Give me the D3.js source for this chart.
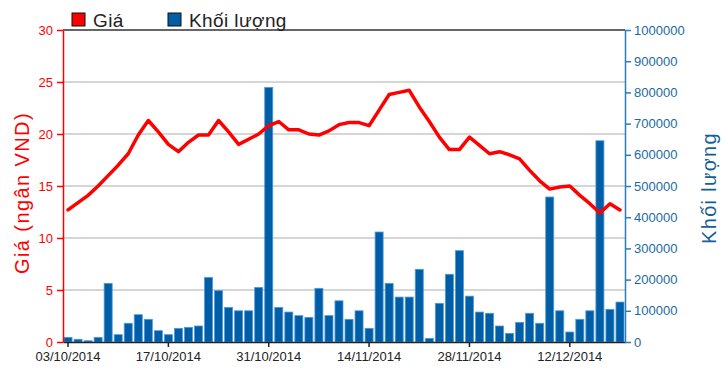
<!DOCTYPE html>
<html lang="vi">
<head>
<meta charset="UTF-8">
<title>Giá và khối lượng</title>
<script src="https://cdnjs.cloudflare.com/ajax/libs/d3/7.8.5/d3.min.js"></script>
<style>
    body { margin: 0; background: #fff; }
    svg { display: block; font-family: "Liberation Sans", Arial, sans-serif; }
    .grid line { stroke: #c8c8c8; stroke-width: 1.5; }
    .axis-x text { fill: #222; font-size: 13px; }
    .axis-left text { fill: #ff0000; font-size: 13px; }
    .axis-right text { fill: #1a6aa3; font-size: 13px; }
</style>
</head>
<body>
<svg id="chart" width="728" height="373"></svg>
<script>
// trading days
const dates = [
    "03/10/2014",
    "06/10/2014", "07/10/2014", "08/10/2014", "09/10/2014", "10/10/2014",
    "13/10/2014", "14/10/2014", "15/10/2014", "16/10/2014", "17/10/2014",
    "20/10/2014", "21/10/2014", "22/10/2014", "23/10/2014", "24/10/2014",
    "27/10/2014", "28/10/2014", "29/10/2014", "30/10/2014", "31/10/2014",
    "03/11/2014", "04/11/2014", "05/11/2014", "06/11/2014", "07/11/2014",
    "10/11/2014", "11/11/2014", "12/11/2014", "13/11/2014", "14/11/2014",
    "17/11/2014", "18/11/2014", "19/11/2014", "20/11/2014", "21/11/2014",
    "24/11/2014", "25/11/2014", "26/11/2014", "27/11/2014", "28/11/2014",
    "01/12/2014", "02/12/2014", "03/12/2014", "04/12/2014", "05/12/2014",
    "08/12/2014", "09/12/2014", "10/12/2014", "11/12/2014", "12/12/2014",
    "15/12/2014", "16/12/2014", "17/12/2014", "18/12/2014", "19/12/2014"
];

// giá (ngàn VND)
const prices = [
    12.7, 13.4, 14.1, 15.0, 16.0, 17.0, 18.1, 19.9, 21.3, 20.2,
    19.0, 18.3, 19.2, 19.9, 19.9, 21.3, 20.2, 19.0, 19.5, 20.0,
    20.8, 21.2, 20.4, 20.4, 20.0, 19.9, 20.3, 20.9, 21.1, 21.1,
    20.8, 22.3, 23.8, 24.0, 24.2, 22.6, 21.2, 19.7, 18.5, 18.5,
    19.7, 18.9, 18.1, 18.3, 18.0, 17.6, 16.5, 15.5, 14.7, 14.9,
    15.0, 14.1, 13.3, 12.4, 13.3, 12.7
];

// khối lượng
const volumes = [
    15000, 8700, 4000, 15000, 188000, 23500, 60000, 87500, 72700, 36300,
    23500, 43800, 47000, 51300, 207000, 164500, 111000, 100000, 100000, 175000,
    816000, 111000, 96000, 84500, 79000, 172000, 84500, 132000, 72700, 100000,
    43800, 352500, 188000, 144000, 144000, 233000, 11700, 124000, 217000, 292700,
    147000, 96000, 92000, 51300, 27800, 63000, 92000, 60000, 464700, 100000,
    32000, 72700, 100000, 645000, 104700, 128000
];

const xTickDates = ["03/10/2014", "17/10/2014", "31/10/2014", "14/11/2014", "28/11/2014", "12/12/2014"];
const priceTicks = [0, 5, 10, 15, 20, 25, 30];
const volumeTicks = [0, 100000, 200000, 300000, 400000, 500000, 600000, 700000, 800000, 900000, 1000000];

const plotLeft = 63, plotRight = 625, plotTop = 30, plotBottom = 342;
const red = "#ff0000", blue = "#005ea6", axisBlue = "#2a7db5";

const svg = d3.select("#chart");

const x = d3.scaleBand().domain(dates).range([plotLeft, plotRight])
    .paddingInner(0.2).paddingOuter(0.1);
const yPrice = d3.scaleLinear().domain([0, 30]).range([plotBottom, plotTop]);
const yVol = d3.scaleLinear().domain([0, 1000000]).range([plotBottom, plotTop]);

// grid lines
svg.append("g").attr("class", "grid")
    .selectAll("line").data(priceTicks.slice(1, -1)).join("line")
    .attr("x1", plotLeft).attr("x2", plotRight)
    .attr("y1", d => yPrice(d)).attr("y2", d => yPrice(d));

// top border
svg.append("line").attr("x1", plotLeft).attr("x2", plotRight)
    .attr("y1", plotTop).attr("y2", plotTop)
    .attr("stroke", "#333").attr("stroke-width", 1.5);

// bars
svg.append("g").selectAll("rect").data(volumes).join("rect")
    .attr("x", (d, i) => x(dates[i]))
    .attr("y", d => yVol(d))
    .attr("width", x.bandwidth())
    .attr("height", d => plotBottom - yVol(d))
    .attr("fill", blue)
    .attr("stroke", "#4d9ae0")
    .attr("stroke-width", 0.8);

// x axis
const xAxis = svg.append("g").attr("class", "axis-x")
    .attr("transform", `translate(0,${plotBottom})`)
    .call(d3.axisBottom(x).tickValues(xTickDates).tickSize(5).tickSizeOuter(0).tickPadding(5));
xAxis.select(".domain").attr("stroke", "#222").attr("stroke-width", 1.5);
xAxis.selectAll(".tick line").attr("stroke", "#222").attr("stroke-width", 1.5);

// left axis
const yAxisL = svg.append("g").attr("class", "axis-left")
    .attr("transform", `translate(${plotLeft},0)`)
    .call(d3.axisLeft(yPrice).tickValues(priceTicks).tickSize(6).tickSizeOuter(0).tickPadding(4));
yAxisL.select(".domain").attr("stroke", red).attr("stroke-width", 1.5);
yAxisL.selectAll(".tick line").attr("stroke", red).attr("stroke-width", 1.5);

// right axis
const yAxisR = svg.append("g").attr("class", "axis-right")
    .attr("transform", `translate(${plotRight},0)`)
    .call(d3.axisRight(yVol).tickValues(volumeTicks).tickFormat(d3.format("d")).tickSize(6).tickSizeOuter(0).tickPadding(3));
yAxisR.select(".domain").attr("stroke", axisBlue).attr("stroke-width", 1.5);
yAxisR.selectAll(".tick line").attr("stroke", axisBlue).attr("stroke-width", 1.5);

// price line
const line = d3.line()
    .x((d, i) => x(dates[i]) + x.bandwidth() / 2)
    .y(d => yPrice(d));
svg.append("path").datum(prices)
    .attr("d", line)
    .attr("fill", "none")
    .attr("stroke", red)
    .attr("stroke-width", 3.5)
    .attr("stroke-linejoin", "round")
    .attr("stroke-linecap", "round");

// axis titles
svg.append("text")
    .attr("transform", `translate(29,${(plotTop + plotBottom) / 2 + 7}) rotate(-90)`)
    .attr("text-anchor", "middle")
    .attr("fill", red)
    .style("font-size", "20px")
    .style("letter-spacing", "1.4px")
    .text("Giá (ngân VND)");

svg.append("text")
    .attr("transform", `translate(716,${(plotTop + plotBottom) / 2 + 2}) rotate(-90)`)
    .attr("text-anchor", "middle")
    .attr("fill", "#155f99")
    .style("font-size", "20px")
    .style("letter-spacing", "1.3px")
    .text("Khối lượng");

// legend
const legend = [
    { label: "Giá", color: red, x: 72 },
    { label: "Khối lượng", color: blue, x: 168 }
];
const lg = svg.append("g").selectAll("g").data(legend).join("g")
    .attr("transform", d => `translate(${d.x},13)`);
lg.append("rect").attr("width", 13).attr("height", 13)
    .attr("fill", d => d.color).attr("stroke", "#111").attr("stroke-width", 1);
lg.append("text").attr("x", 21).attr("y", 14)
    .attr("fill", "#222")
    .style("font-size", "19px")
    .style("letter-spacing", "0.4px")
    .text(d => d.label);
</script>
</body>
</html>
